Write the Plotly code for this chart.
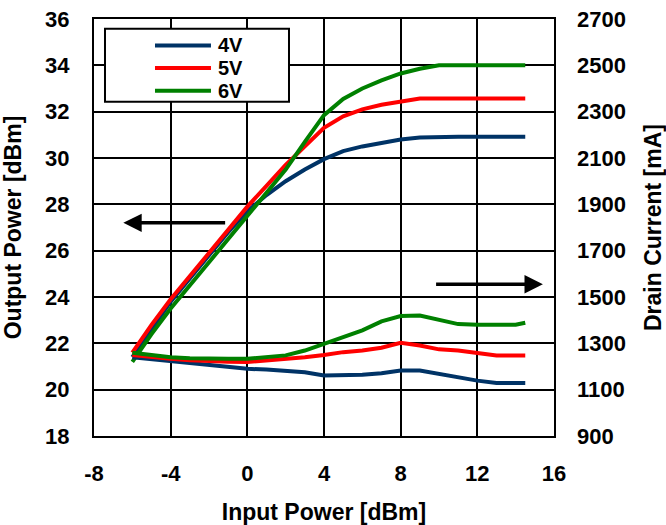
import plotly.graph_objects as go

# ---------------- data ----------------
input_power = [-6, -5, -4, -3, -2, -1, 0, 1, 2, 3, 4, 5, 6, 7, 8, 9, 10, 11, 12, 13, 14, 14.5]
series_names = ["4V", "5V", "6V"]
series_colors = ["#003366", "#FF0000", "#008000"]

pout_4v = [21.4, 22.6, 23.8, 24.8, 25.8, 26.8, 27.7, 28.4, 29.0, 29.5, 29.95, 30.3, 30.5, 30.65,
           30.8, 30.88, 30.92, 30.92, 30.92, 30.92, 30.92, 30.92]
pout_5v = [21.6, 22.8, 23.9, 24.9, 25.9, 26.9, 27.9, 28.8, 29.7, 30.5, 31.3, 31.8, 32.1, 32.3,
           32.45, 32.57, 32.57, 32.57, 32.57, 32.57, 32.57, 32.57]
pout_6v = [21.2, 22.4, 23.5, 24.5, 25.5, 26.5, 27.5, 28.5, 29.5, 30.7, 31.85, 32.55, 33.0, 33.35,
           33.65, 33.85, 34.0, 34.0, 34.0, 34.0, 34.0, 34.0]

idd_4v = [1240, 1232, 1223, 1213, 1204, 1197, 1190, 1187, 1183, 1175, 1161, 1162, 1164, 1171,
          1183, 1183, 1168, 1154, 1139, 1129, 1129, 1129]
idd_5v = [1250, 1240, 1233, 1227, 1222, 1220, 1219, 1225, 1233, 1240, 1250, 1262, 1269, 1281,
          1302, 1291, 1274, 1269, 1258, 1248, 1248, 1248]
idd_6v = [1259, 1248, 1240, 1236, 1233, 1233, 1233, 1240, 1248, 1269, 1298, 1328, 1356, 1395,
          1418, 1420, 1403, 1383, 1380, 1380, 1380, 1389]

x_ticks = [-8, -4, 0, 4, 8, 12, 16]
y_ticks = [18, 20, 22, 24, 26, 28, 30, 32, 34, 36]
y2_ticks = [900, 1100, 1300, 1500, 1700, 1900, 2100, 2300, 2500, 2700]

x_title = "Input Power [dBm]"
y_title = "Output Power [dBm]"
y2_title = "Drain Current [mA]"

FONT = "Liberation Sans, Arial, sans-serif"
LW = 4

fig = go.Figure()
for name, color, pout in zip(series_names, series_colors, [pout_4v, pout_5v, pout_6v]):
    fig.add_trace(go.Scatter(x=input_power, y=pout, mode="lines", name=name,
                             line=dict(color=color, width=LW), showlegend=False, yaxis="y"))
for name, color, idd in zip(series_names, series_colors, [idd_4v, idd_5v, idd_6v]):
    fig.add_trace(go.Scatter(x=input_power, y=idd, mode="lines", name=name,
                             line=dict(color=color, width=LW), showlegend=False, yaxis="y2"))

tickfont = dict(family=FONT, size=22, color="black", weight="bold")
titlefont = dict(family=FONT, size=23, color="black", weight="bold")
legendfont = dict(family=FONT, size=20, color="black", weight="bold")

fig.update_layout(
    width=666, height=525,
    margin=dict(l=94, r=112, t=19, b=89, autoexpand=False),
    paper_bgcolor="white", plot_bgcolor="white",
    xaxis=dict(range=[-8, 16], tickvals=x_ticks, ticktext=[str(v) for v in x_ticks],
               showgrid=True, gridcolor="black", gridwidth=2, zeroline=False,
               showline=True, linecolor="black", linewidth=2, mirror=True,
               ticks="", tickfont=tickfont, ticklabelstandoff=17,
               title=dict(text=x_title, font=titlefont, standoff=24)),
    yaxis=dict(range=[18, 36], tickvals=y_ticks, showgrid=True, gridcolor="black", gridwidth=2,
               zeroline=False, showline=True, linecolor="black", linewidth=2, mirror=True,
               ticks="", tickfont=tickfont, ticklabelstandoff=18,
               title=dict(text=y_title, font=titlefont, standoff=22)),
    yaxis2=dict(range=[900, 2700], tickvals=y2_ticks, overlaying="y", side="right",
                showgrid=False, zeroline=False, ticks="", tickfont=tickfont,
                ticklabelstandoff=22, title=dict(text=y2_title, font=titlefont, standoff=20)),
    showlegend=False,
)

# direction arrows (which axis each curve family belongs to)
fig.add_annotation(x=-6.47, y=27.2, ax=-1.08, ay=27.2, xref="x", yref="y", axref="x", ayref="y",
                   text="", showarrow=True, arrowhead=2, arrowsize=1.05, arrowwidth=3.5,
                   arrowcolor="black")
fig.add_annotation(x=15.42, y=1555, ax=9.77, ay=1555, xref="x", yref="y2", axref="x", ayref="y2",
                   text="", showarrow=True, arrowhead=2, arrowsize=1.05, arrowwidth=3.5,
                   arrowcolor="black")

# manual legend (box, line samples, labels)
fig.add_shape(type="rect", xref="paper", yref="paper", x0=0.0239, x1=0.4239, y0=0.8014, y1=0.9767,
              line=dict(color="black", width=2), fillcolor="white", layer="above")
legend_rows = [0.9366, 0.8823, 0.8280]
for name, color, yy in zip(series_names, series_colors, legend_rows):
    fig.add_shape(type="line", xref="paper", yref="paper", x0=0.1326, x1=0.2543, y0=yy, y1=yy,
                  line=dict(color=color, width=LW), layer="above")
    fig.add_annotation(x=0.2674, y=yy, xref="paper", yref="paper", text=name, showarrow=False,
                       xanchor="left", yanchor="middle", font=legendfont, borderpad=0)

fig.write_html("out.html")
